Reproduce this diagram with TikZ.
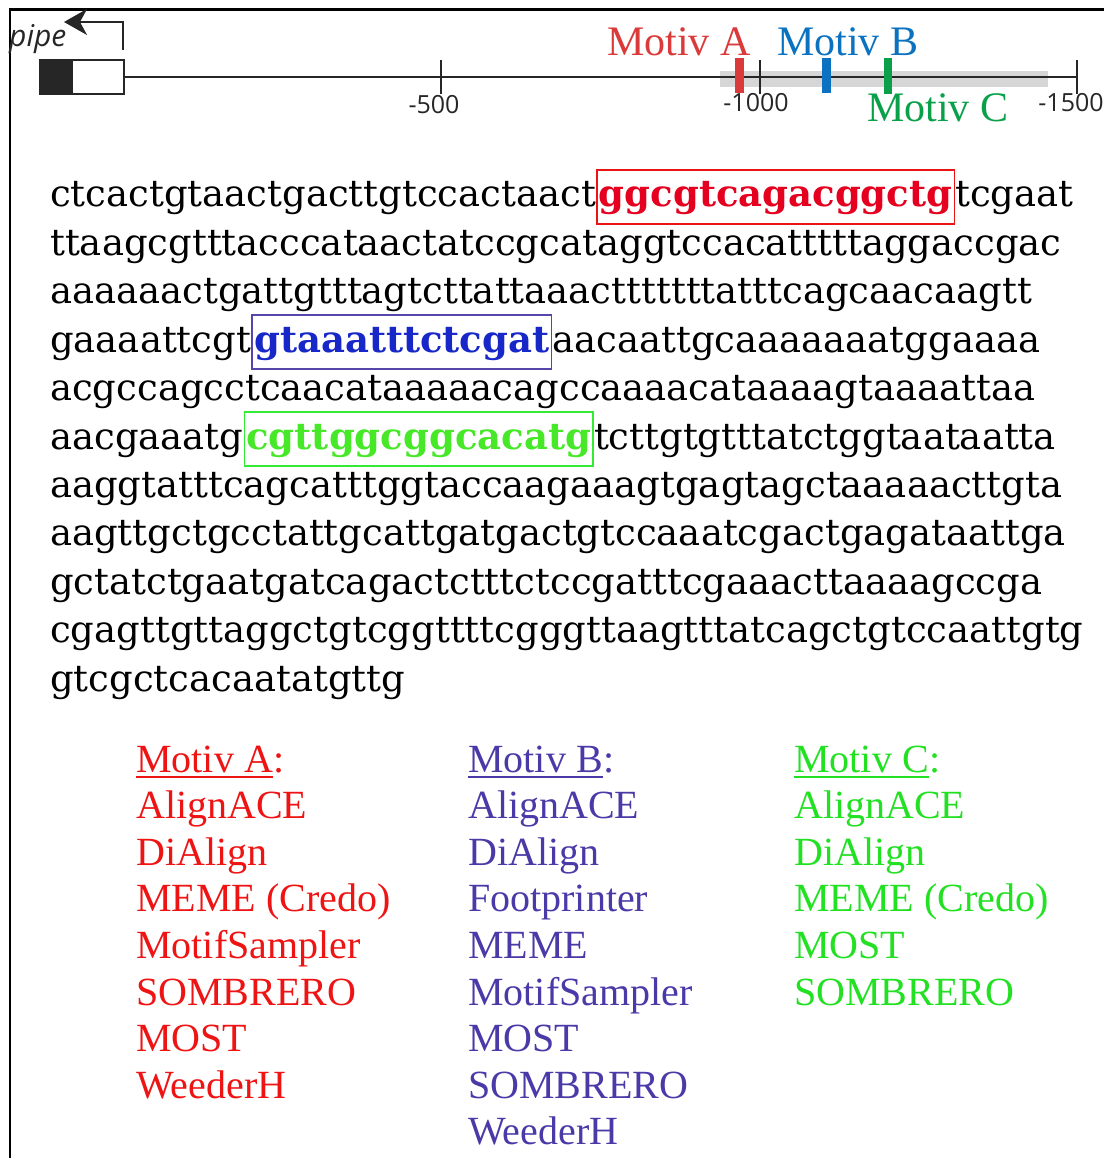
\documentclass[tikz,border=0pt]{standalone}
\usepackage{fontspec}
\setmainfont{Liberation Serif}
\newfontfamily\seqfont{DejaVu Serif}
\newfontfamily\labfont{Open Sans}
\usetikzlibrary{arrows.meta}

% bar / label colours of the gene map
\definecolor{barA}{RGB}{218,58,58}
\definecolor{barB}{RGB}{10,114,192}
\definecolor{barC}{RGB}{10,160,74}
% highlighted motifs in the sequence
\definecolor{seqA}{RGB}{228,0,30}
\definecolor{seqB}{RGB}{24,40,200}
\definecolor{seqC}{RGB}{70,232,40}
\definecolor{boxA}{RGB}{235,20,20}
\definecolor{boxB}{RGB}{85,70,170}
\definecolor{boxC}{RGB}{50,235,50}
% tool lists
\definecolor{listA}{RGB}{238,20,20}
\definecolor{listB}{RGB}{74,58,168}
\definecolor{listC}{RGB}{34,224,34}

\tikzset{
  txt/.style={inner sep=0pt, anchor=base west},
  seq/.style={txt, font=\seqfont\fontsize{37}{44}\selectfont},
  motif/.style={txt, font=\seqfont\bfseries\fontsize{37}{44}\selectfont,
    inner xsep=2pt, inner ysep=3pt, text height=34pt, text depth=14pt,
    line width=1.6pt},
  maplabel/.style={txt, font=\fontsize{42}{48}\selectfont},
  ticklabel/.style={inner sep=0pt, anchor=base, font=\labfont\fontsize{25}{30}\selectfont, text=black!85},
  tool/.style={txt, font=\fontsize{40}{46}\selectfont},
  tickline/.style={line width=2pt, draw=black!85},
}

\begin{document}
\begin{tikzpicture}[x=1pt,y=-1pt]
\useasboundingbox (0,0) rectangle (1104,1158);

% frame
\draw[line width=2.5pt] (10,1158) -- (10,9.5) -- (1104,9.5);

% ---------- gene map ----------
\fill[black!16] (720,71) rectangle (1048,87.5);
\node[draw=black!85, line width=2pt, fill=white, minimum width=52pt, minimum height=34pt,
      inner sep=0pt, anchor=west] (utr) at (71,77) {};
\node[draw=black!85, line width=2pt, fill=black!85, minimum width=30pt, minimum height=34pt,
      inner sep=0pt, anchor=east] (cds) at (utr.west) {};
\coordinate (mapend) at (1077,77);
\draw[line width=2pt, draw=black!85] (utr.east) -- (mapend);

\coordinate (t500) at (441,77);
\coordinate (t1000) at (760,77);
\coordinate (t1500) at (1077,77);
\foreach \t in {t500,t1000,t1500}
  \draw[tickline] ([yshift=17pt]\t) -- ([yshift=-17pt]\t);
\node[ticklabel] (l500) at (434,114) {-500};
\node[ticklabel] (l1000) at (756,112) {-1000};
\node[ticklabel] (l1500) at (1071,112) {-1500};

% transcription start arrow
\coordinate (tssfoot) at (123,50);
\coordinate (tsscorner) at (123,22);
\coordinate (tsstip) at (64,22);
\draw[line width=2pt, draw=black!85, -{Stealth[length=23pt, width=26pt, inset=7pt]}]
  (tssfoot) -- (tsscorner) -- (tsstip);
\node[txt, font=\labfont\itshape\fontsize{30}{34}\selectfont, text=black!85] (pipe) at (9,47) {pipe};

% motif positions
\fill[barA] (735,58) rectangle (744,93);
\fill[barB] (822,58) rectangle (831,93);
\fill[barC] (884,58) rectangle (892,94);
\node[maplabel, text=barA] (mapA) at (607,56) {Motiv A};
\node[maplabel, text=barB] (mapB) at (777,56) {Motiv B};
\node[maplabel, text=barC] (mapC) at (867,122) {Motiv C};

% ---------- sequence ----------
\node[seq] (s1a) at (50,207) {ctcactgtaactgacttgtccactaact};
\node[motif, draw=boxA, text=seqA] (mA) at (s1a.base east) {ggcgtcagacggctg};
\node[seq] (s1b) at (mA.base east) {tcgaat};
\node[seq] (s2) at (50,255.4) {ttaagcgtttacccataactatccgcataggtccacatttttaggaccgac};
\node[seq] (s3) at (50,303.8) {aaaaaactgattgtttagtcttattaaactttttttatttcagcaacaagtt};
\node[seq] (s4a) at (50,352.2) {gaaaattcgt};
\node[motif, draw=boxB, text=seqB] (mB) at (s4a.base east) {gtaaatttctcgat};
\node[seq] (s4b) at (mB.base east) {aacaattgcaaaaaaatggaaaa};
\node[seq] (s5) at (50,400.6) {acgccagcctcaacataaaaacagccaaaacataaaagtaaaattaa};
\node[seq] (s6a) at (50,449) {aacgaaatg};
\node[motif, draw=boxC, text=seqC] (mC) at (s6a.base east) {cgttggcggcacatg};
\node[seq] (s6b) at (mC.base east) {tcttgtgtttatctggtaataatta};
\node[seq] (s7) at (50,497.4) {aaggtatttcagcatttggtaccaagaaagtgagtagctaaaaacttgta};
\node[seq] (s8) at (50,545.8) {aagttgctgcctattgcattgatgactgtccaaatcgactgagataattga};
\node[seq] (s9) at (50,594.2) {gctatctgaatgatcagactctttctccgatttcgaaacttaaaagccga};
\node[seq] (s10) at (50,642.6) {cgagttgttaggctgtcggttttcgggttaagtttatcagctgtccaattgtg};
\node[seq] (s11) at (50,691) {gtcgctcacaatatgttg};

% ---------- tool lists ----------
\foreach \col/\c/\x in {A/listA/136, B/listB/468, C/listC/794} {
  \node[tool, text=\c] (h\col) at (\x,772) {Motiv \col};
  \node[tool, text=\c] (h\col colon) at (h\col.base east) {:};
  \draw[line width=2pt, draw=\c] ([yshift=-5pt]h\col.base west) -- ([yshift=-5pt]h\col.base east);
}
\foreach \t [count=\k] in {AlignACE, DiAlign, {MEME (Credo)}, MotifSampler, SOMBRERO, MOST, WeederH}
  \node[tool, text=listA] (a\k) at (136,{772+46.6*\k}) {\t};
\foreach \t [count=\k] in {AlignACE, DiAlign, Footprinter, MEME, MotifSampler, MOST, SOMBRERO, WeederH}
  \node[tool, text=listB] (b\k) at (468,{772+46.6*\k}) {\t};
\foreach \t [count=\k] in {AlignACE, DiAlign, {MEME (Credo)}, MOST, SOMBRERO}
  \node[tool, text=listC] (c\k) at (794,{772+46.6*\k}) {\t};
\end{tikzpicture}
\end{document}
